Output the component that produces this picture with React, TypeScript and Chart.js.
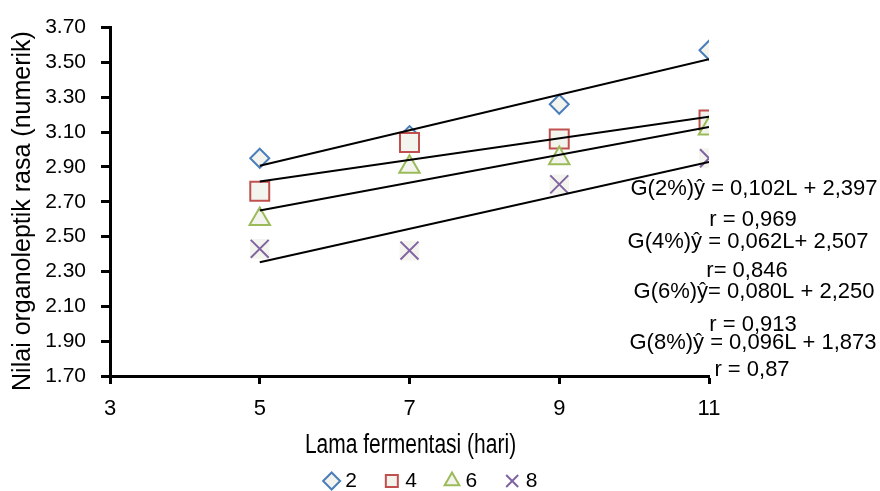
import React, { useEffect, useRef } from "react";
import { Chart, registerables } from "chart.js";

Chart.register(...registerables);

// ---- data ----
const DAYS = [5, 7, 9, 11];
const SERIES_LABELS = ["2", "4", "6", "8"];
const G2 = [2.95, 3.08, 3.26, 3.57];
const G4 = [2.76, 3.04, 3.06, 3.17];
const G6 = [2.6, 2.9, 2.95, 3.12];
const G8 = [2.43, 2.42, 2.8, 2.95];
const SLOPES = [0.102, 0.062, 0.08, 0.096];
const INTERCEPTS = [2.397, 2.507, 2.25, 1.873];
const TREND_RANGE = [5, 11];
const X_TICKS = [3, 5, 7, 9, 11];
const Y_TICKS = [1.7, 1.9, 2.1, 2.3, 2.5, 2.7, 2.9, 3.1, 3.3, 3.5, 3.7];
const X_TITLE = "Lama fermentasi (hari)";
const Y_TITLE = "Nilai organoleptik rasa (numerik)";
const EQUATION_LINES = [
  "G(2%)ŷ = 0,102L + 2,397",
  "r = 0,969",
  "G(4%)ŷ = 0,062L+ 2,507",
  "r= 0,846",
  "G(6%)ŷ= 0,080L + 2,250",
  "r = 0,913",
  "G(8%)ŷ = 0,096L + 1,873",
  "r = 0,87",
];

// ---- styles / layout ----
const FONT = "'Liberation Sans', Arial, sans-serif";
const COLORS = ["#4a7ebb", "#c0504d", "#9bbb59", "#8064a2"];
const MARKER_FILL = "#f4f4ee";
const POINT_STYLES = ["rectRot", "rect", "triangle", "crossRot"];
const POINT_RADII = [9.5, 13.4, 11.8, 12.7];
const ORDERS = [4, 3, 2, 1];
const EQ_X = [754, 753, 748, 747, 754, 753, 753, 752];
const EQ_BASE = [195, 226, 248, 277, 298, 331, 349, 376];

const SERIES = [G2, G4, G6, G8];

const textPlugin = {
  id: "extraTexts",
  afterDraw(chart: any) {
    const ctx = chart.ctx as CanvasRenderingContext2D;
    ctx.save();
    ctx.fillStyle = "#000";
    ctx.textAlign = "center";
    ctx.textBaseline = "alphabetic";
    ctx.font = `22px ${FONT}`;
    EQUATION_LINES.forEach((t, i) => ctx.fillText(t, EQ_X[i], EQ_BASE[i]));

    ctx.save();
    ctx.translate(30, 211);
    ctx.rotate(-Math.PI / 2);
    ctx.font = `25px ${FONT}`;
    ctx.fillText(Y_TITLE, 0, 0);
    ctx.restore();

    ctx.save();
    ctx.translate(410.5, 453);
    ctx.scale(1, 1.35);
    ctx.font = `21px ${FONT}`;
    ctx.fillText(X_TITLE, 0, 0);
    ctx.restore();

    ctx.restore();
  },
};

export default function App() {
  const canvasRef = useRef<HTMLCanvasElement | null>(null);

  useEffect(() => {
    if (!canvasRef.current) return;
    Chart.defaults.color = "#000";

    const scatterSets = SERIES.map((vals, i) => ({
      label: SERIES_LABELS[i],
      data: DAYS.map((d, j) => ({ x: d, y: vals[j] })),
      showLine: false,
      pointStyle: POINT_STYLES[i],
      pointRadius: POINT_RADII[i],
      pointHoverRadius: POINT_RADII[i],
      pointBorderWidth: 2,
      borderWidth: 2,
      borderColor: COLORS[i],
      backgroundColor: MARKER_FILL,
      pointBorderColor: COLORS[i],
      pointBackgroundColor: MARKER_FILL,
      order: ORDERS[i],
    }));

    const trendSets = SLOPES.map((b, i) => ({
      label: "trend" + SERIES_LABELS[i],
      data: TREND_RANGE.map((x) => ({ x, y: b * x + INTERCEPTS[i] })),
      showLine: true,
      borderColor: "#000",
      borderWidth: 2,
      pointRadius: 0,
      pointHoverRadius: 0,
      order: 0,
    }));

    const crossBg = {
      label: "bg",
      data: DAYS.map((d, j) => ({ x: d, y: G8[j] })),
      showLine: false,
      pointStyle: "rect",
      pointRadius: 14,
      pointBorderWidth: 0,
      borderWidth: 0,
      pointBackgroundColor: MARKER_FILL,
      backgroundColor: MARKER_FILL,
      order: 5,
    };

    const chart = new Chart(canvasRef.current, {
      type: "scatter",
      data: { datasets: [...scatterSets, ...trendSets, crossBg] as any },
      plugins: [textPlugin],
      options: {
        animation: false,
        responsive: false,
        events: [],
        layout: { padding: { top: 25, right: 14, bottom: -10.5, left: 0 } },
        plugins: {
          tooltip: { enabled: false },
          title: { display: false },
          legend: {
            display: true,
            position: "bottom",
            labels: {
              usePointStyle: true,
              boxWidth: 6,
              boxHeight: 12,
              padding: 32,
              color: "#000",
              font: { family: FONT, size: 21 },
              filter: (item: any) => item.datasetIndex < 4,
              sort: (a: any, b: any) => a.datasetIndex - b.datasetIndex,
            },
          },
        },
        scales: {
          x: {
            type: "linear",
            min: 3,
            max: 11,
            afterBuildTicks: (scale: any) => {
              scale.ticks = X_TICKS.map((v) => ({ value: v }));
            },
            afterFit: (scale: any) => {
              scale.height = 62.5;
            },
            grid: {
              display: true,
              drawOnChartArea: false,
              drawTicks: true,
              tickLength: 8,
              tickWidth: 3,
              tickColor: "#000",
            },
            border: { display: true, color: "#000", width: 3 },
            ticks: {
              padding: 12,
              color: "#000",
              font: { family: FONT, size: 22 },
              callback: (v: any) => String(v),
            },
          },
          y: {
            type: "linear",
            min: 1.7,
            max: 3.7,
            afterBuildTicks: (scale: any) => {
              scale.ticks = Y_TICKS.map((v) => ({ value: v }));
            },
            afterFit: (scale: any) => {
              scale.width = 110;
            },
            grid: {
              display: true,
              drawOnChartArea: false,
              drawTicks: true,
              tickLength: 9,
              tickWidth: 3,
              tickColor: "#000",
            },
            border: { display: true, color: "#000", width: 3 },
            ticks: {
              padding: 15,
              color: "#000",
              font: { family: FONT, size: 21 },
              callback: (v: any) => Number(v).toFixed(2),
            },
          },
          yR: {
            type: "linear",
            position: "right",
            display: true,
            grid: { display: false, drawTicks: false },
            border: { display: false },
            ticks: { display: false },
            afterFit: (scale: any) => {
              scale.width = 157;
            },
          },
        },
      } as any,
    });

    return () => chart.destroy();
  }, []);

  return (
    <div style={{ position: "absolute", left: 0, top: 0, width: 880, height: 491, background: "#fff" }}>
      <canvas ref={canvasRef} width={880} height={491} style={{ display: "block" }} />
    </div>
  );
}
